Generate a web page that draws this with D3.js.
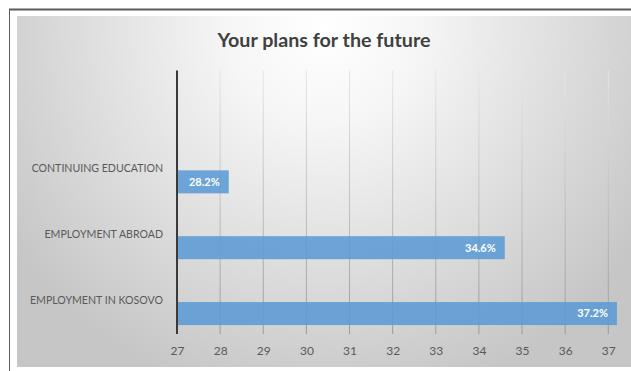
<!DOCTYPE html>
<html>
<head>
<meta charset="utf-8">
<script src="https://cdn.jsdelivr.net/npm/d3@7"></script>
<style>
  html, body { margin: 0; padding: 0; background: #ffffff; }
  svg { display: block; }
</style>
</head>
<body>
<svg id="chart" width="631" height="371"></svg>
<script>
// Survey answers, top to bottom
const categories = ["CONTINUING EDUCATION", "EMPLOYMENT ABROAD", "EMPLOYMENT IN KOSOVO"];
const values = [28.2, 34.6, 37.2];
const tickValues = [27, 28, 29, 30, 31, 32, 33, 34, 35, 36, 37];
const title = "Your plans for the future";

const svg = d3.select("#chart");
const W = 631, H = 371;
const font = "Lato, 'Open Sans', sans-serif";

const defs = svg.append("defs");

// soft radial backdrop, bright at the top centre
const bg = defs.append("radialGradient")
  .attr("id", "bgGrad")
  .attr("gradientUnits", "userSpaceOnUse")
  .attr("cx", 324).attr("cy", 28).attr("r", 380);
bg.append("stop").attr("offset", 0).attr("stop-color", "#ffffff");
bg.append("stop").attr("offset", 0.25).attr("stop-color", "#f6f6f6");
bg.append("stop").attr("offset", 1).attr("stop-color", "#c6c6c6");

// gridlines fade from pale at the top to a darker grey at the bottom
const plotTop = 70.5, plotBottom = 334;
const gg = defs.append("linearGradient")
  .attr("id", "gridGrad")
  .attr("gradientUnits", "userSpaceOnUse")
  .attr("x1", 0).attr("y1", plotTop).attr("x2", 0).attr("y2", plotBottom);
gg.append("stop").attr("offset", 0).attr("stop-color", "#e6e6e6");
gg.append("stop").attr("offset", 1).attr("stop-color", "#9a9a9a");

// frame
svg.append("rect").attr("x", 0).attr("y", 0).attr("width", W).attr("height", H).attr("fill", "#ffffff");
svg.append("rect")
  .attr("x", 17).attr("y", 16).attr("width", W - 17).attr("height", 351)
  .attr("fill", "url(#bgGrad)");
svg.append("line").attr("x1", 9).attr("x2", W).attr("y1", 9.5).attr("y2", 9.5)
  .attr("stroke", "#5a5a5a").attr("stroke-width", 2);
svg.append("line").attr("x1", 9.5).attr("x2", 9.5).attr("y1", 9).attr("y2", H)
  .attr("stroke", "#5a5a5a").attr("stroke-width", 1);

// scales
const x = d3.scaleLinear().domain([27, 37]).range([177, 608.3]);
const y = d3.scaleBand().domain(categories).range([136.4, plotBottom]);
const barH = 23;

// vertical gridlines
svg.append("g").selectAll("line")
  .data(tickValues.slice(1))
  .join("line")
  .attr("x1", d => x(d)).attr("x2", d => x(d))
  .attr("y1", plotTop).attr("y2", plotBottom)
  .attr("stroke", "url(#gridGrad)").attr("stroke-width", 1);

// bars
svg.append("g").selectAll("rect")
  .data(categories)
  .join("rect")
  .attr("x", x(27))
  .attr("y", d => y(d) + y.step() / 2 + 1)
  .attr("width", (d, i) => x(values[i]) - x(27))
  .attr("height", barH)
  .attr("fill", "#5b9bd5")
  .attr("fill-opacity", 0.88);

// value labels inside the bar ends
svg.append("g").selectAll("text")
  .data(categories)
  .join("text")
  .attr("x", (d, i) => x(values[i]) - 9)
  .attr("y", d => y(d) + y.step() / 2 + 1 + barH / 2)
  .attr("dy", "0.35em")
  .attr("text-anchor", "end")
  .attr("font-family", font)
  .attr("font-weight", "bold")
  .attr("font-size", "11px")
  .attr("fill", "#ffffff")
  .text((d, i) => d3.format(".1f")(values[i]) + "%");

// category axis line
svg.append("line")
  .attr("x1", x(27)).attr("x2", x(27))
  .attr("y1", plotTop).attr("y2", plotBottom)
  .attr("stroke", "#3a3a3a").attr("stroke-width", 2);

// category labels
svg.append("g").selectAll("text")
  .data(categories)
  .join("text")
  .attr("x", 163)
  .attr("y", d => y(d) + y.step() / 2 - 1)
  .attr("dy", "0.35em")
  .attr("text-anchor", "end")
  .attr("font-family", font)
  .attr("font-size", "10.6px")
  .attr("fill", "#595959")
  .text(d => d);

// value axis
const xAxis = d3.axisBottom(x).tickValues(tickValues).tickSize(0).tickPadding(0)
  .tickFormat(d3.format("d"));
const gx = svg.append("g").attr("transform", `translate(0,${plotBottom})`).call(xAxis);
gx.select(".domain").remove();
gx.selectAll("text")
  .attr("y", 21)
  .attr("dy", 0)
  .attr("font-family", font)
  .attr("font-size", "12px")
  .attr("fill", "#595959");

// title
svg.append("text")
  .attr("x", 324).attr("y", 47)
  .attr("text-anchor", "middle")
  .attr("font-family", font)
  .attr("font-weight", "bold")
  .attr("font-size", "19.7px")
  .attr("fill", "#404040")
  .text(title);
</script>
</body>
</html>
